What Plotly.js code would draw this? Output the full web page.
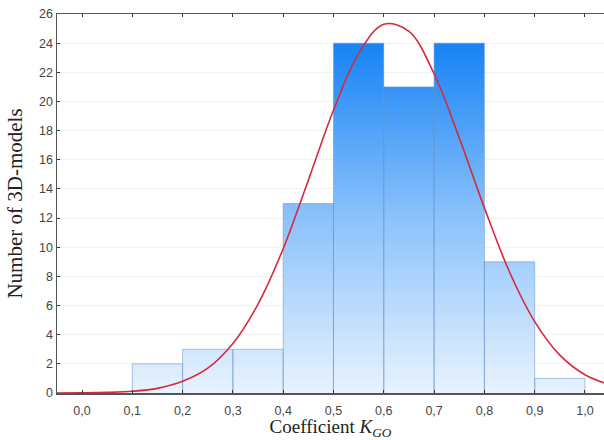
<!DOCTYPE html>
<html>
<head>
<meta charset="utf-8">
<script src="https://cdn.plot.ly/plotly-3.0.1.min.js"></script>
<style>html,body{margin:0;padding:0;background:#fff;}#chart{width:604px;height:440px;}</style>
</head>
<body>
<div id="chart"></div>
<script>
// Histogram bins (left edges), bin width and counts
const binStarts = [0.1, 0.2, 0.3, 0.4, 0.5, 0.6, 0.7, 0.8, 0.9];
const binWidth = 0.1;
const counts = [2, 3, 3, 13, 24, 21, 24, 9, 1];

// Fitted curve
const curveX = [-0.05, 0.0, 0.05, 0.1, 0.15, 0.2, 0.25, 0.3, 0.35, 0.4, 0.45, 0.5, 0.55, 0.6, 0.65, 0.7, 0.75, 0.8, 0.85, 0.9, 0.95, 1.0, 1.05];
const curveY = [0.0, 0.01, 0.04, 0.12, 0.32, 0.8, 1.7, 3.4, 6.1, 9.9, 14.6, 19.4, 23.3, 25.3, 24.8, 21.9, 17.5, 12.7, 8.3, 4.9, 2.6, 1.25, 0.55];

// Tick labels
const xTickVals = [0, 0.1, 0.2, 0.3, 0.4, 0.5, 0.6, 0.7, 0.8, 0.9, 1.0];
const xTickText = ['0,0', '0,1', '0,2', '0,3', '0,4', '0,5', '0,6', '0,7', '0,8', '0,9', '1,0'];
const yTickVals = [0, 2, 4, 6, 8, 10, 12, 14, 16, 18, 20, 22, 24, 26];

// Step outline of the histogram for the gradient fill
const stepX = [binStarts[0]], stepY = [0];
binStarts.forEach((s, i) => {
  stepX.push(s, s + binWidth);
  stepY.push(counts[i], counts[i]);
});
stepX.push(binStarts[binStarts.length - 1] + binWidth);
stepY.push(0);

// Rectangle outlines of each bin
const boxX = [], boxY = [];
binStarts.forEach((s, i) => {
  boxX.push(s, s, s + binWidth, s + binWidth, null);
  boxY.push(0, counts[i], counts[i], 0, null);
});

const maxCount = Math.max(...counts);

const traces = [
  {
    type: 'scatter', mode: 'lines', x: stepX, y: stepY,
    fill: 'toself', line: {width: 0},
    fillgradient: {type: 'vertical', start: 0, stop: maxCount,
      colorscale: [[0, '#e8f3fe'], [0.5, '#8cc2fb'], [1, '#1683f5']]},
    hoverinfo: 'skip', showlegend: false
  },
  {
    type: 'scatter', mode: 'lines', x: boxX, y: boxY,
    line: {color: 'rgba(105,150,210,0.55)', width: 1},
    hoverinfo: 'skip', showlegend: false
  },
  {
    type: 'scatter', mode: 'lines', x: curveX, y: curveY,
    line: {color: '#d42b3c', width: 1.6, shape: 'spline', smoothing: 1},
    showlegend: false
  }
];

const layout = {
  width: 604, height: 440,
  margin: {l: 57, r: 0, t: 14, b: 47},
  paper_bgcolor: '#ffffff', plot_bgcolor: '#ffffff',
  showlegend: false,
  xaxis: {
    range: [-0.0497, 1.0378],
    tickvals: xTickVals, ticktext: xTickText,
    ticks: 'inside', ticklen: 3, tickcolor: '#333', tickwidth: 1,
    ticklabelstandoff: 5,
    showline: true, linecolor: '#555', linewidth: 1.5, mirror: 'ticks',
    showgrid: false, zeroline: false,
    tickfont: {family: 'Liberation Sans, Arial, sans-serif', size: 12.5, color: '#444'},
    title: {text: 'Coefficient <i>K</i><sub><i>GO</i></sub>', standoff: 8,
      font: {family: 'Liberation Serif, Times New Roman, serif', size: 19, color: '#222'}}
  },
  yaxis: {
    range: [0, 26],
    tickvals: yTickVals,
    ticks: 'inside', ticklen: 3, tickcolor: '#333', tickwidth: 1,
    showline: true, linecolor: '#555', linewidth: 1.5,
    showgrid: true, gridcolor: '#f1f1f1', gridwidth: 1, zeroline: false,
    tickfont: {family: 'Liberation Sans, Arial, sans-serif', size: 12.5, color: '#444'},
    title: {text: 'Number of 3D-models', standoff: 10,
      font: {family: 'Liberation Serif, Times New Roman, serif', size: 21, color: '#222'}}
  }
};

Plotly.newPlot('chart', traces, layout, {staticPlot: true, displayModeBar: false});
</script>
</body>
</html>
